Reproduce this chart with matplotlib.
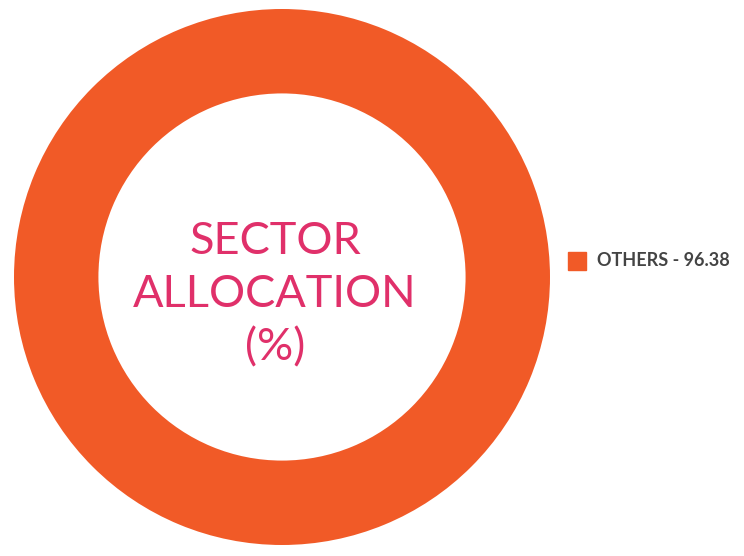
import matplotlib

matplotlib.use("Agg")

import matplotlib.pyplot as plt
from matplotlib.patches import Rectangle

# chart data
labels = ["OTHERS"]
values = [96.38]
colors = ["#f15a27"]
center_title = "SECTOR\nALLOCATION\n(%)"

W, H = 744, 556
fig = plt.figure(figsize=(W / 100, H / 100), dpi=100)

# donut: centre (282, 277) px, outer radius 268 px
cx, cy, r = 282, 277, 268
ax = fig.add_axes([(cx - r) / W, (H - cy - r) / H, 2 * r / W, 2 * r / H])
ax.pie(values, colors=colors, radius=1.0, startangle=90, counterclock=False,
       wedgeprops=dict(width=0.315, edgecolor="none"))
ax.set_aspect("equal")
ax.set_xlim(-1, 1)
ax.set_ylim(-1, 1)
ax.axis("off")

fig.text(275 / W, 1 - 295 / H, center_title, ha="center", va="center",
         fontsize=32.5, color="#e0306a", family=["Lato", "DejaVu Sans"],
         linespacing=1.36, multialignment="center")

# legend
for i, (lab, val, col) in enumerate(zip(labels, values, colors)):
    y = 261 + i * 30
    fig.patches.append(Rectangle((568 / W, 1 - (y + 8.5) / H), 18 / W, 17 / H,
                                 transform=fig.transFigure, color=col))
    fig.text(597 / W, 1 - y / H, f"{lab} - {val:.2f}", ha="left", va="center",
             fontsize=13, fontweight="bold", color="#444444",
             family=["Lato", "DejaVu Sans"])

fig.savefig("out.png", dpi=100, facecolor="white")
